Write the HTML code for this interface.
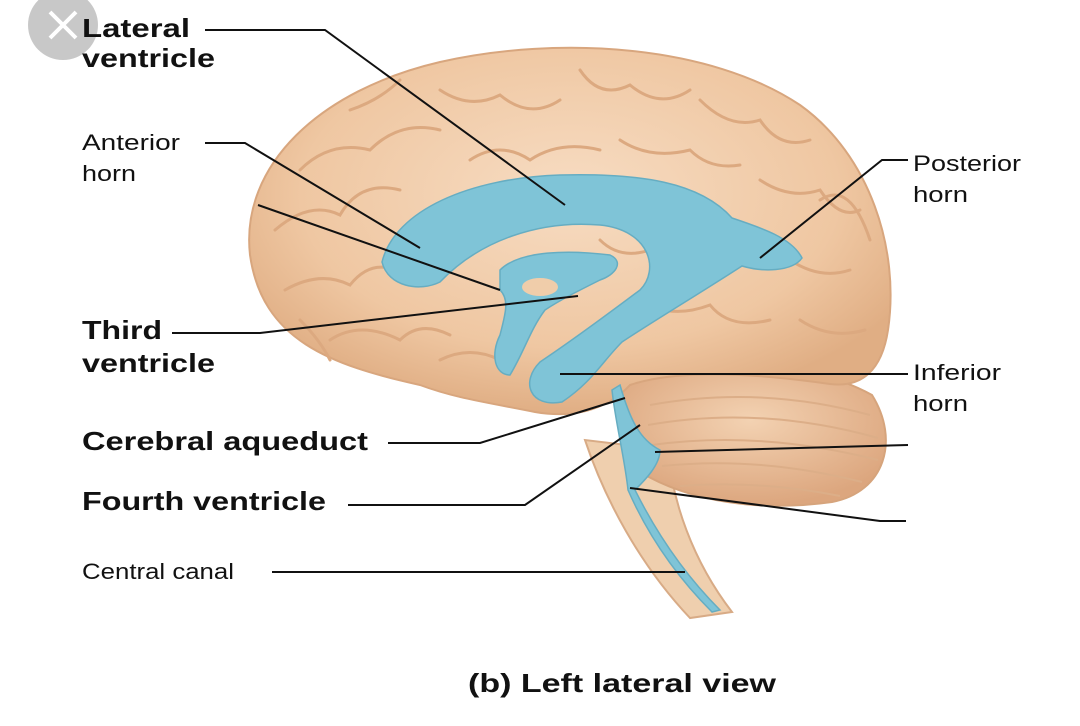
<!DOCTYPE html>
<html><head><meta charset="utf-8"><style>
html,body{margin:0;padding:0;background:#fff;}
svg{display:block}
text{font-family:"Liberation Sans",sans-serif;fill:#111}
.b{font-weight:bold;font-size:26px}
.n{font-size:22px}
</style></head><body>
<svg width="1080" height="726" viewBox="0 0 1080 726">
<defs>
<radialGradient id="g" cx="50%" cy="40%" r="60%">
<stop offset="0" stop-color="#f7dcc2"/><stop offset="0.7" stop-color="#efc7a2"/><stop offset="1" stop-color="#e0ae84"/></radialGradient>
<radialGradient id="c" cx="50%" cy="40%" r="60%">
<stop offset="0" stop-color="#f3d2b2"/><stop offset="1" stop-color="#dca67e"/></radialGradient>
</defs>
<!-- brainstem -->
<path d="M585 440 C605 500 640 565 690 618 L732 612 C692 560 672 500 668 450 Z" fill="#efcfae" stroke="#d8ab86" stroke-width="2"/>
<!-- cerebellum -->
<path d="M615 385 C680 355 800 355 872 395 C900 440 885 492 832 502 C760 512 690 502 640 472 Z" fill="url(#c)" stroke="#d6a47c" stroke-width="2"/>
<g stroke="#dcae88" stroke-width="2" fill="none">
<path d="M650 405 Q760 385 870 415"/><path d="M648 425 Q760 405 878 438"/><path d="M652 445 Q760 430 878 460"/><path d="M662 466 Q760 456 862 482"/><path d="M680 486 Q760 480 840 496"/>
</g>
<!-- cerebrum -->
<path d="M250 255 C240 165 320 90 440 62 C560 35 710 45 800 105 C870 155 900 250 888 330 C882 370 862 388 830 384 C760 374 680 368 630 385 C605 412 570 418 535 412 C485 402 455 398 420 385 C330 365 262 340 250 255 Z" fill="url(#g)" stroke="#d8a67e" stroke-width="2"/>
<g stroke="#dca980" stroke-width="3" fill="none" stroke-linecap="round">
<path d="M300 170 Q330 140 370 150 Q400 120 440 130"/>
<path d="M275 230 Q310 200 340 215 Q360 180 400 190"/>
<path d="M285 290 Q320 270 350 285 Q370 260 395 270"/>
<path d="M440 90 Q470 110 500 95 Q530 120 560 100"/>
<path d="M580 70 Q600 100 630 85 Q660 110 690 90"/>
<path d="M700 100 Q730 130 760 120 Q780 150 810 140"/>
<path d="M760 180 Q790 200 820 190 Q840 220 860 210"/>
<path d="M790 260 Q820 280 850 270"/>
<path d="M800 320 Q830 340 865 330"/>
<path d="M470 160 Q500 140 530 160 Q560 140 600 150"/>
<path d="M620 140 Q650 160 690 150 Q710 170 740 165"/>
<path d="M330 340 Q360 320 400 340 Q420 320 450 335"/>
<path d="M640 300 Q670 320 710 305 Q730 330 770 320"/>
<path d="M440 360 Q470 345 500 360"/>
<path d="M600 240 Q620 260 650 250"/>
<path d="M350 110 Q380 100 400 80"/>
<path d="M820 200 Q850 180 870 240"/>
<path d="M300 320 Q320 340 330 360"/>
</g>
<!-- ventricles -->
<g fill="#7fc4d7" stroke="#66adc2" stroke-width="1.5">
<path d="M382 262 C395 210 470 178 560 175 C640 173 700 182 732 218 C762 228 792 238 802 258 C792 272 762 272 742 266 C702 292 652 322 622 342 C602 362 592 382 562 402 C530 408 520 382 540 362 C570 342 600 320 640 290 C660 270 650 230 600 225 C540 220 480 240 440 282 C420 292 388 287 382 262 Z"/>
<path d="M500 270 C520 250 570 250 610 255 C625 262 615 275 600 280 C580 290 560 300 545 310 C530 330 525 350 510 375 C495 375 490 355 500 335 C505 315 510 300 500 290 Z"/>
<path d="M620 385 C630 420 640 440 660 450 C660 465 645 480 635 490 C660 540 690 580 720 610 L712 612 C680 580 650 540 628 490 C625 460 615 420 612 390 Z"/>
</g>
<ellipse cx="540" cy="287" rx="18" ry="9" fill="#f0cdaa"/>
<!-- close button -->
<circle cx="63" cy="25" r="35" fill="#c8c8c8"/>
<path d="M50 12 L76 38 M76 12 L50 38" stroke="#fff" stroke-width="4"/>
<!-- leader lines -->
<g stroke="#111" stroke-width="2" fill="none">
<polyline points="205,30 325,30 565,205"/>
<polyline points="205,143 245,143 420,248"/>
<polyline points="258,205 500,290"/>
<polyline points="172,333 260,333 578,296"/>
<polyline points="388,443 480,443 625,398"/>
<polyline points="348,505 525,505 640,425"/>
<polyline points="272,572 685,572"/>
<polyline points="908,160 882,160 760,258"/>
<polyline points="908,374 560,374"/>
<polyline points="908,445 655,452"/>
<polyline points="906,521 880,521 630,488"/>
</g>
<text class="b" x="82" y="37" textLength="108" lengthAdjust="spacingAndGlyphs">Lateral</text>
<text class="b" x="82" y="67" textLength="133" lengthAdjust="spacingAndGlyphs">ventricle</text>
<text class="n" x="82" y="150" textLength="98" lengthAdjust="spacingAndGlyphs">Anterior</text>
<text class="n" x="82" y="181" textLength="54" lengthAdjust="spacingAndGlyphs">horn</text>
<text class="b" x="82" y="339" textLength="80" lengthAdjust="spacingAndGlyphs">Third</text>
<text class="b" x="82" y="372" textLength="133" lengthAdjust="spacingAndGlyphs">ventricle</text>
<text class="b" x="82" y="450" textLength="286" lengthAdjust="spacingAndGlyphs">Cerebral aqueduct</text>
<text class="b" x="82" y="510" textLength="244" lengthAdjust="spacingAndGlyphs">Fourth ventricle</text>
<text class="n" x="82" y="579" textLength="152" lengthAdjust="spacingAndGlyphs">Central canal</text>
<text class="n" x="913" y="171" textLength="108" lengthAdjust="spacingAndGlyphs">Posterior</text>
<text class="n" x="913" y="202" textLength="55" lengthAdjust="spacingAndGlyphs">horn</text>
<text class="n" x="913" y="380" textLength="88" lengthAdjust="spacingAndGlyphs">Inferior</text>
<text class="n" x="913" y="411" textLength="55" lengthAdjust="spacingAndGlyphs">horn</text>
<text class="b" x="468" y="692" style="font-size:26px" textLength="308" lengthAdjust="spacingAndGlyphs">(b) Left lateral view</text>
</svg>
</body></html>
